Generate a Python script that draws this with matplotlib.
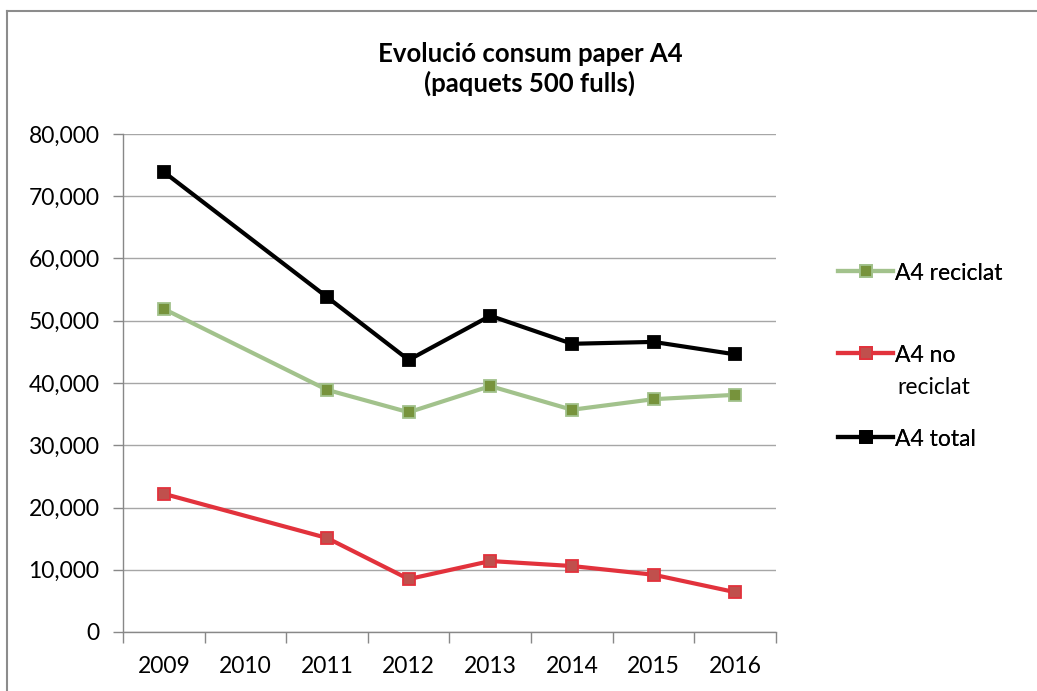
import matplotlib
matplotlib.use("Agg")
import matplotlib.pyplot as plt
import numpy as np
from matplotlib.lines import Line2D
from matplotlib.ticker import FuncFormatter, FixedLocator

plt.rcParams['font.family'] = ['Lato', 'DejaVu Sans']

years = ["2009", "2010", "2011", "2012", "2013", "2014", "2015", "2016"]
reciclat = [51900, None, 38900, 35300, 39500, 35700, 37400, 38100]
no_reciclat = [22200, None, 15100, 8500, 11400, 10600, 9200, 6400]
total = [73900, None, 53800, 43700, 50800, 46300, 46600, 44600]
labels = ["A4 reciclat", "A4 no", "A4 total"]
title = "Evolució consum paper A4\n(paquets 500 fulls)"

W, H = 1037, 691
fig = plt.figure(figsize=(W / 100, H / 100), dpi=100)
ax = fig.add_axes([123 / W, 1 - 632 / H, (776 - 123) / W, (632 - 134) / H])

def valid(vals):
    idx = [i for i, v in enumerate(vals) if v is not None]
    return idx, [vals[i] for i in idx]

styles = [
    dict(color="#A2C28C", mfc="#77933C", mec="#A2C28C"),
    dict(color="#E2323C", mfc="#C0504D", mec="#E2323C"),
    dict(color="#000000", mfc="#000000", mec="#000000"),
]
handles = []
for vals, st, lab in zip([reciclat, no_reciclat, total], styles, labels):
    xi, yv = valid(vals)
    h, = ax.plot(xi, yv, color=st["color"], lw=3.0, marker="s", ms=8.5,
                 mfc=st["mfc"], mec=st["mec"], mew=1.3, label=lab,
                 solid_joinstyle="round", zorder=3)
    handles.append(h)

ax.set_xlim(-0.5, len(years) - 0.5)
ax.set_ylim(0, 80000)
ax.set_yticks(np.arange(0, 80001, 10000))
ax.yaxis.set_major_formatter(FuncFormatter(lambda v, p: f"{v:,.0f}"))
ax.grid(axis="y", color="#A6A6A6", lw=1.0)
ax.set_axisbelow(True)

ax.set_xticks(range(len(years)))
ax.set_xticklabels(years)
ax.xaxis.set_minor_locator(FixedLocator(np.arange(-0.5, len(years), 1.0)))
ax.tick_params(axis="x", which="major", length=0, pad=17, labelsize=16.5)
ax.tick_params(axis="x", which="minor", length=8, width=1, color="#888888", direction="out")
ax.tick_params(axis="y", length=7, width=1, color="#888888", pad=10, labelsize=16.5)

for s in ["top", "right"]:
    ax.spines[s].set_visible(False)
for s in ["left", "bottom"]:
    ax.spines[s].set_color("#888888")
    ax.spines[s].set_linewidth(1.0)

fig.text(530 / W, 1 - 69 / H, title, ha="center", va="center",
         fontsize=18.5, fontweight="bold", linespacing=1.25)

# legend entries
ys = [273, 355, 439]
for h, y in zip(handles, ys):
    leg = fig.legend(handles=[h], labels=[h.get_label()], loc="center left",
                     bbox_to_anchor=(838 / W, 1 - y / H), frameon=False,
                     borderpad=0, borderaxespad=0, handlelength=2.4,
                     handletextpad=0.1, fontsize=16.5, numpoints=1)
    fig.add_artist(leg)
fig.text(897 / W, 1 - 388 / H, "reciclat", ha="left", va="center", fontsize=16.5)

# chart border
fig.add_artist(Line2D([7 / W, 1], [1 - 11 / H, 1 - 11 / H], color="#8C8C8C", lw=1.5,
                      transform=fig.transFigure))
fig.add_artist(Line2D([7 / W, 7 / W], [0, 1 - 11 / H], color="#8C8C8C", lw=1.5,
                      transform=fig.transFigure))

fig.savefig("out.png", dpi=100, facecolor="white")
